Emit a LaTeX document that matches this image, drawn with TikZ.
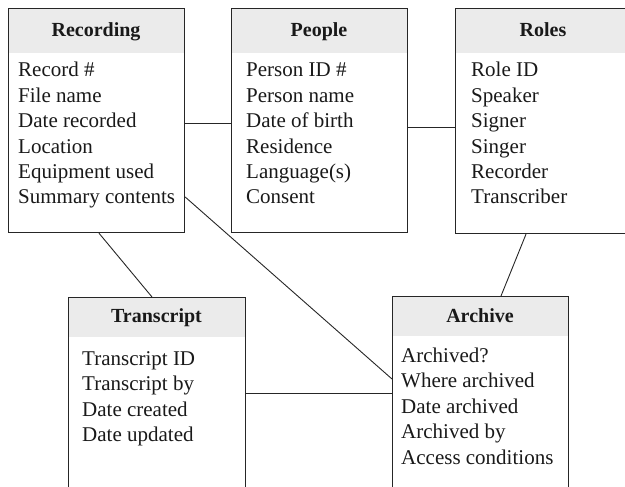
\documentclass[tikz,border=0pt]{standalone}
\usepackage{fontspec}
\setmainfont{Liberation Serif}
\usetikzlibrary{calc}
\begin{document}
\begin{tikzpicture}[x=1pt,y=-1pt,
  ent/.style={draw=black!85, line width=1.2pt, rectangle, minimum width=176pt, inner sep=0pt, anchor=north west},
  hdr/.style={fill=black!8},
  ttl/.style={font=\fontsize{20}{20}\selectfont\bfseries, anchor=base, inner sep=0pt, text=black!90},
  fld/.style={font=\fontsize{21}{25}\selectfont, anchor=base west, inner sep=0pt, text=black!90},
  conn/.style={draw=black!85, line width=0.9pt}]
\useasboundingbox (0,0) rectangle (625,487);
\clip (0,0) rectangle (625,487);
% header fills
\fill[hdr] (8,8) rectangle (184,53);
\fill[hdr] (231,8) rectangle (407,53);
\fill[hdr] (455,8) rectangle (650,53);
\fill[hdr] (68,297) rectangle (245,337);
\fill[hdr] (392,296) rectangle (568,336);
% boxes
\node[ent, minimum height=224pt] (rec) at (8,8) {};
\node[ent, minimum height=224pt] (peo) at (231,8) {};
\node[ent, minimum width=195pt, minimum height=225pt] (rol) at (455,8) {};
\node[ent, minimum width=177pt, minimum height=220pt] (tra) at (68,297) {};
\node[ent, minimum height=220pt] (arc) at (392,296) {};
% titles
\node[ttl] (rect) at (96,36.5) {Recording};
\node[ttl] (peot) at (319,36.5) {People};
\node[ttl] (rolt) at (543,36.5) {Roles};
\node[ttl] (trat) at (156.5,322) {Transcript};
\node[ttl] (arct) at (480,322) {Archive};
% fields
\foreach \t [count=\i from 0] in {Record \#,File name,Date recorded,Location,Equipment used,Summary contents}
  \node[fld] (recf\i) at (18,77+25.4*\i) {\t};
\foreach \t [count=\i from 0] in {Person ID \#,Person name,Date of birth,Residence,Language(s),Consent}
  \node[fld] (peof\i) at (246,77+25.4*\i) {\t};
\foreach \t [count=\i from 0] in {Role ID,Speaker,Signer,Singer,Recorder,Transcriber}
  \node[fld] (rolf\i) at (471,77+25.4*\i) {\t};
\foreach \t [count=\i from 0] in {Transcript ID,Transcript by,Date created,Date updated}
  \node[fld] (traf\i) at (82,365+25.5*\i) {\t};
\foreach \t [count=\i from 0] in {Archived?,Where archived,Date archived,Archived by,Access conditions}
  \node[fld] (arcf\i) at (401,362+25.5*\i) {\t};
% connectors
\draw[conn] (rec.east |- 0,123) -- (peo.west |- 0,123);
\draw[conn] (peo.east |- 0,127) -- (rol.west |- 0,127);
\draw[conn] (rec.south -| 99,0) -- (tra.north -| 152,0);
\draw[conn] (rec.east |- 0,197) -- (arc.west |- 0,379);
\draw[conn] (tra.east |- 0,393) -- (arc.west |- 0,393);
\draw[conn] (rol.south -| 526,0) -- (arc.north -| 501,0);
\end{tikzpicture}
\end{document}
